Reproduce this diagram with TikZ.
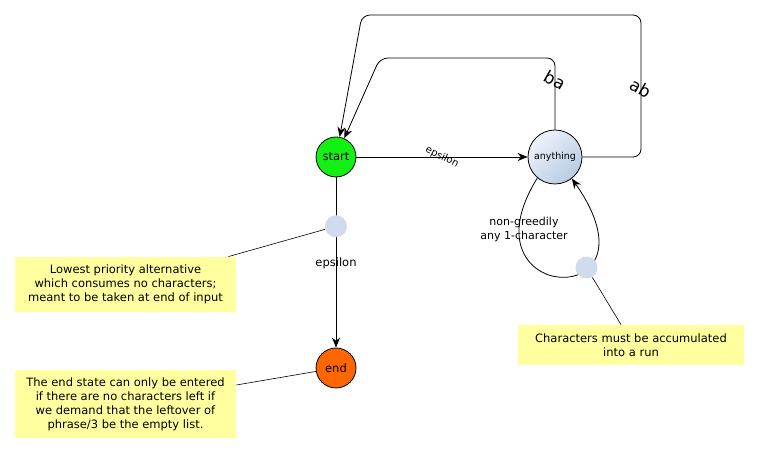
\documentclass[tikz,border=0pt]{standalone}
\usepackage{fontspec}
\setmainfont{DejaVu Sans}
\usetikzlibrary{automata,positioning,arrows.meta}

\definecolor{startgreen}{RGB}{20,240,20}
\definecolor{endorange}{RGB}{255,102,0}
\definecolor{notebg}{RGB}{255,255,160}
\definecolor{dotblue}{RGB}{208,220,238}
\definecolor{anylight}{RGB}{238,242,249}
\definecolor{anydark}{RGB}{184,203,228}

\begin{document}
\begin{tikzpicture}[x=1pt,y=1pt,>={Stealth[length=10pt,width=8pt]},line width=0.8pt,
    node distance=2cm,on grid,
    every state/.style={draw,minimum size=40pt,inner sep=0pt,font=\fontsize{11.5}{13}\selectfont},
    note/.style={fill=notebg,minimum width=221pt,align=center,font=\fontsize{11.5}{14}\selectfont},
    hint/.style={circle,fill=dotblue,minimum size=22pt,inner sep=0pt}]
  \useasboundingbox (0,0) rectangle (760,455);

  \node[state,fill=startgreen] (start) at (336,298) {start};
  \node[state,minimum size=54pt,left color=anylight,right color=anydark,shading angle=45,
        font=\fontsize{9.5}{11}\selectfont] (any) [right=219pt of start] {anything};
  \node[state,fill=endorange] (end) [below=211pt of start] {end};

  \node[note,minimum height=55pt] (lowest) at (125.5,170.5)
    {Lowest priority alternative\\which consumes no characters;\\meant to be taken at end of input};
  \node[note,minimum height=68pt] (endnote) at (125.5,51)
    {The end state can only be entered\\if there are no characters left if\\we demand that the leftover of\\phrase/3 be the empty list.};
  \node[note,minimum width=226pt,minimum height=40pt] (runnote) at (631,110)
    {Characters must be accumulated\\into a run};

  \coordinate (baBend) at (380,397);
  \coordinate (abTop)  at (641,440);
  \coordinate (abBend) at (362,440);

  \draw[->] (start) -- node[pos=0.5,rotate=-27,font=\fontsize{10}{12}\selectfont] {epsilon} (any);
  \draw[->] (start) -- node[hint,pos=0.287] (dot1) {}
                       node[pos=0.503,font=\fontsize{11.5}{13}\selectfont] {epsilon} (end);
  \draw[->,rounded corners=8pt] (any.north) |- node[pos=0.345,rotate=-30,font=\fontsize{17}{19}\selectfont] {ba}
        (baBend) -- (start);
  \draw[->,rounded corners=8pt] (any.east) -| node[pos=0.743,rotate=-30,font=\fontsize{17}{19}\selectfont] {ab}
        (abTop) -- (abBend) -- (start);
  \draw[->] (any.-130) to[out=-122,in=-55,out distance=150pt,in distance=165pt]
        node[hint,pos=0.66] (dot2) {} (any.-52);
  \node[align=center,font=\fontsize{11}{14}\selectfont] (looplbl) at (524,226) {non-greedily\\any 1-character};

  \draw[line width=0.6pt] (dot1) -- ([xshift=-8pt]lowest.north east);
  \draw[line width=0.6pt] (end) -- ([yshift=19pt]endnote.east);
  \draw[line width=0.6pt] (dot2) -- ([xshift=-10pt]runnote.north);
\end{tikzpicture}
\end{document}
